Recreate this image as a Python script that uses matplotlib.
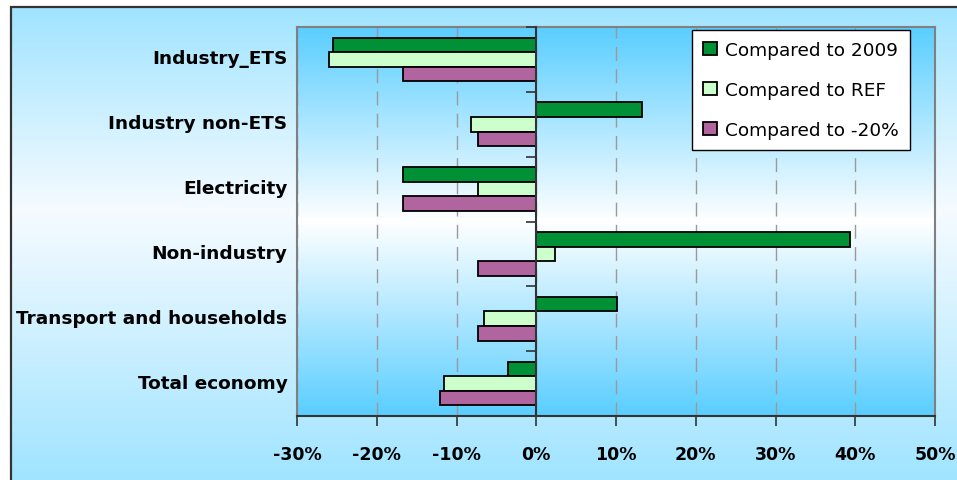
import matplotlib.pyplot as plt
import numpy as np
from matplotlib.colors import LinearSegmentedColormap
from matplotlib.patches import Rectangle
from matplotlib.ticker import FuncFormatter, MultipleLocator
import matplotlib.transforms as mtransforms

# sectors, top to bottom
sectors = ['Industry_ETS', 'Industry non-ETS', 'Electricity', 'Non-industry',
           'Transport and households', 'Total economy']
vs_2009 = [-25.5, 13.3, -16.7, 39.3, 10.1, -3.6]
vs_ref = [-26.0, -8.2, -7.3, 2.4, -6.5, -11.6]
vs_20 = [-16.7, -7.3, -16.7, -7.3, -7.3, -12.1]
series_names = ['Compared to 2009', 'Compared to REF', 'Compared to -20%']
series_colors = ['#009035', '#CCFFCC', '#B0659E']

W, H = 957, 481
fig = plt.figure(figsize=(W / 100, H / 100), dpi=100)
fig.patch.set_facecolor('white')

# outer chart area: light blue fading to white in the middle
bg = fig.add_axes([11 / W, 0, 1 - 11 / W, 1 - 8 / H], zorder=-10)
bg_cmap = LinearSegmentedColormap.from_list(
    'outer', [(0, '#A0E4FF'), (0.43, '#F6FBFF'), (1, '#A0E4FF')])
bg.imshow(np.linspace(0, 1, 256).reshape(-1, 1), aspect='auto', cmap=bg_cmap,
          extent=[0, 1, 1, 0])
bg.axis('off')
fig.add_artist(Rectangle((11 / W, -0.1), 1.2, 1 - 8 / H + 0.1,
                         transform=fig.transFigure, fill=False,
                         edgecolor='#333333', linewidth=1.6, zorder=-5))

left, right, top, bottom = 297, 935, 28, 417
ax = fig.add_axes([left / W, 1 - bottom / H, (right - left) / W, (bottom - top) / H])

# plot area gradient: saturated blue at top and bottom, white in the middle
pa_cmap = LinearSegmentedColormap.from_list(
    'plot', [(0, '#5ACEFF'), (0.5, '#FFFFFF'), (1, '#5ACEFF')])
ax.imshow(np.linspace(0, 1, 256).reshape(-1, 1), aspect='auto', cmap=pa_cmap,
          extent=[-30, 50, -0.5, 5.5], zorder=0)

y = np.arange(len(sectors))[::-1]
h = 0.225
for k, (vals, name, col) in enumerate(zip([vs_2009, vs_ref, vs_20], series_names, series_colors)):
    ax.barh(y + (1 - k) * h, vals, height=h, color=col, edgecolor='black',
            linewidth=1.3, label=name, zorder=3)

ax.set_xlim(-30, 50)
ax.set_ylim(-0.5, 5.5)
ax.xaxis.set_major_locator(MultipleLocator(10))
ax.xaxis.set_major_formatter(FuncFormatter(lambda v, p: f'{v:.0f}%'))
ax.grid(axis='x', color='#9a9a9a', linestyle=(0, (10, 6)), linewidth=1.0, zorder=1)
ax.tick_params(axis='x', direction='out', length=7, width=1.2, color='#333333',
               pad=14, labelsize=12.5)
for lab in ax.get_xticklabels():
    lab.set_fontweight('bold')

ax.set_yticks(y)
ax.set_yticklabels(sectors, fontsize=13.3, fontweight='bold')
ax.tick_params(axis='y', length=0, pad=7)
shift = mtransforms.ScaledTranslation(0, 3 / 100, fig.dpi_scale_trans)
for lab in ax.get_yticklabels():
    lab.set_transform(lab.get_transform() + shift)

for s in ['left', 'top', 'right']:
    ax.spines[s].set_color('#808080')
    ax.spines[s].set_linewidth(1.5)
ax.spines['bottom'].set_color('#333333')
ax.spines['bottom'].set_linewidth(1.5)

# category axis crossing at zero, with ticks between the sectors
zero_frac = (0 - ax.get_xlim()[0]) / (ax.get_xlim()[1] - ax.get_xlim()[0])
cat = ax.secondary_yaxis(zero_frac)
cat.set_yticks(np.arange(-0.5, len(sectors), 1.0))
cat.tick_params(axis='y', length=7, width=1.2, color='#333333', labelleft=False,
                direction='out')
cat.spines['left'].set_color('#333333')
cat.spines['left'].set_linewidth(1.5)
cat.set_zorder(4)

leg = ax.legend(loc='upper right', bbox_to_anchor=(0.961, 0.993), fontsize=13.3,
                frameon=True, fancybox=False, edgecolor='black', facecolor='white',
                framealpha=1, labelspacing=1.2, handlelength=0.75, handleheight=0.75,
                handletextpad=0.45, borderpad=0.6, borderaxespad=0)
leg.get_frame().set_linewidth(1.0)
leg.set_zorder(6)

fig.savefig('out.png', dpi=100)
